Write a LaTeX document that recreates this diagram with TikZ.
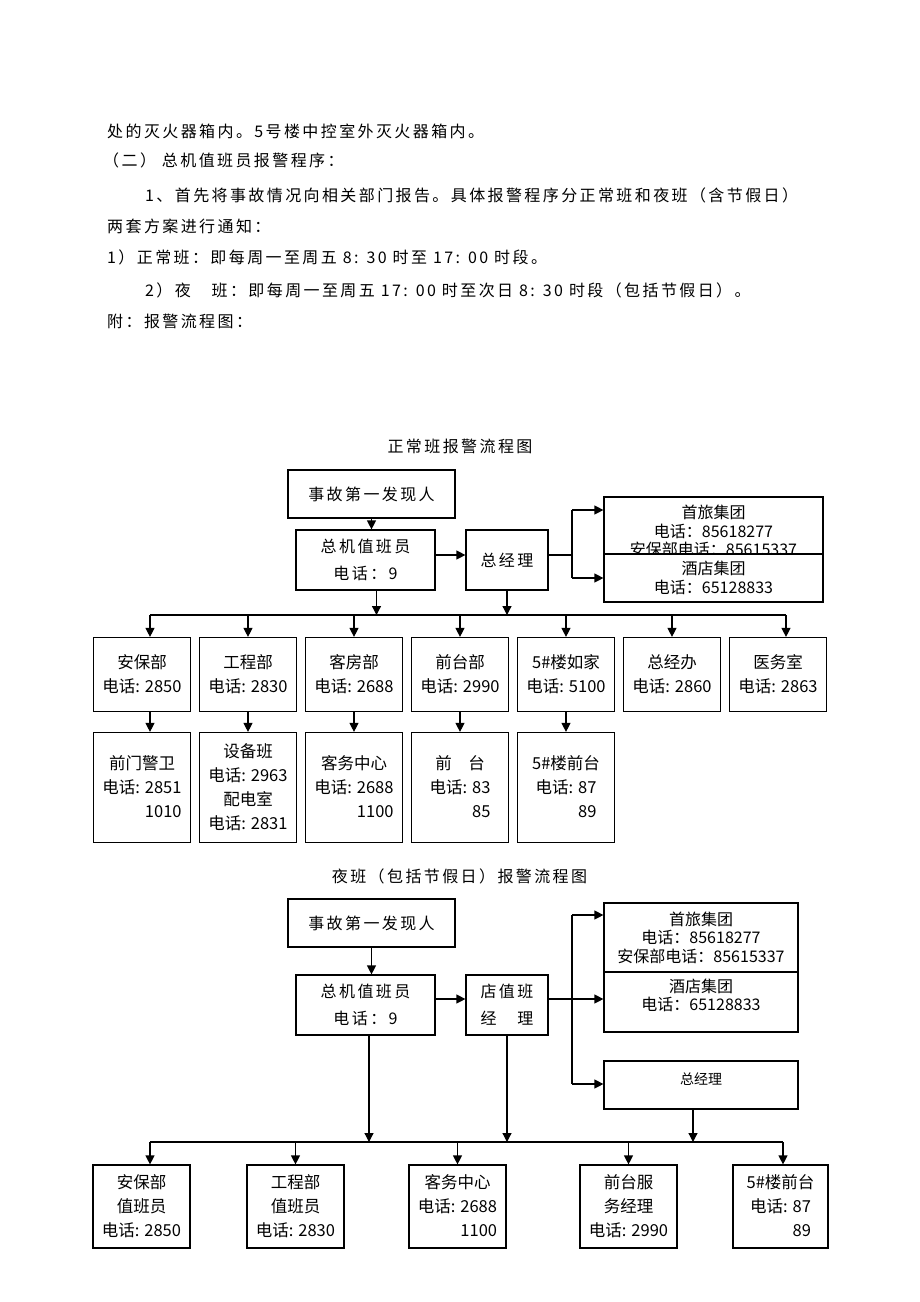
\documentclass[tikz,border=0pt]{standalone}
\usepackage{fontspec}
\newfontfamily\cjk[LetterSpace=15]{Noto Sans CJK SC}
\newfontfamily\cjkn{Noto Sans CJK SC}
\usetikzlibrary{positioning,arrows.meta}
\tikzstyle{BodyText}=[anchor=base west, inner sep=0pt, font=\cjk\fontsize{16}{16}\selectfont]
\tikzstyle{TitleText}=[inner sep=0pt, font=\cjk\fontsize{16}{16}\selectfont]
\tikzstyle{MainBox}=[rectangle, draw, line width=1.2pt, align=center, inner sep=0pt, font=\cjk\fontsize{16}{27}\selectfont]
\tikzstyle{GroupBox}=[rectangle, draw, fill=white, line width=1.2pt, align=center, inner sep=0pt, font=\cjkn\fontsize{16}{18.5}\selectfont]
\tikzstyle{GroupText}=[align=center, inner sep=0pt, font=\cjkn\fontsize{16}{18.5}\selectfont]
\tikzstyle{DeptBox}=[rectangle, draw, line width=1.2pt, align=center, inner sep=0pt, minimum width=97pt, font=\cjkn\fontsize{16.5}{24}\selectfont]
\tikzstyle{Arrow}=[-{Triangle[length=9pt,width=9pt]}, line width=1.2pt]
\tikzstyle{Line}=[line width=1.2pt]
\begin{document}
\begin{tikzpicture}[x=1pt,y=-1pt]
			\useasboundingbox[fill=white] (0,0) rectangle (920,1302);
			%Texto
			\node[BodyText] (line1) at (107,137)	{处的灭火器箱内。5号楼中控室外灭火器箱内。};
			\node[BodyText] (line2) at (103,166.5)	{（二） 总机值班员报警程序：};
			\node[BodyText] (line3) at (145,201)	{1、首先将事故情况向相关部门报告。具体报警程序分正常班和夜班（含节假日）};
			\node[BodyText] (line4) at (107,232.5)	{两套方案进行通知：};
			\node[BodyText] (line5) at (107,263.5)	{1）正常班：即每周一至周五 8: 30 时至 17: 00 时段。};
			\node[BodyText] (line6) at (145,296.5)	{2）夜　班：即每周一至周五 17: 00 时至次日 8: 30 时段（包括节假日）。};
			\node[BodyText] (line7) at (107,327.5)	{附：报警流程图：};

			%Nodos dia
			\node[TitleText] (title1) at (460,446) {正常班报警流程图};
			\node[MainBox, minimum width=167pt, minimum height=48pt]	(finder1)	at (371.5,494)	{事故第一发现人};
			\node[MainBox, minimum width=139pt, minimum height=60pt]	(operator1)	at (365.5,560)	{总机值班员\\电话：9};
			\node[MainBox, minimum width=82pt, minimum height=60pt]		(gm1)		at (507,560)	{总经理};
			\node[GroupBox, minimum width=219pt, minimum height=57pt]	(shoulv1)	at (713.5,525.5)	{};
			\node[GroupText]	(shoulv1txt)	at (713.5,531)	{首旅集团\\电话：85618277\\安保部电话：85615337};
			\node[GroupBox, minimum width=219pt, minimum height=48pt]	(hotel1)	at (713.5,578)	{酒店集团\\电话：65128833};

			\node[DeptBox, minimum height=74pt]	(secur1)	at (142,674.5)		{安保部\\电话: 2850};
			\node[DeptBox, minimum height=74pt]	(engin1)	[right=7.8pt of secur1]	{工程部\\电话: 2830};
			\node[DeptBox, minimum height=74pt]	(house1)	[right=7.8pt of engin1]	{客房部\\电话: 2688};
			\node[DeptBox, minimum height=74pt]	(front1)	[right=7.8pt of house1]	{前台部\\电话: 2990};
			\node[DeptBox, minimum height=74pt]	(bldg1)		[right=7.8pt of front1]	{5\#楼如家\\电话: 5100};
			\node[DeptBox, minimum height=74pt]	(office1)	[right=7.8pt of bldg1]	{总经办\\电话: 2860};
			\node[DeptBox, minimum height=74pt]	(medic1)	[right=7.8pt of office1]	{医务室\\电话: 2863};

			\node[DeptBox, minimum height=110pt, anchor=north]	(gate1)	[below=19.8pt of secur1]	{前门警卫\\电话: 2851\\\phantom{电话: }1010};
			\node[DeptBox, minimum height=110pt, anchor=north]	(equip1)	[below=19.8pt of engin1]	{设备班\\电话: 2963\\配电室\\电话: 2831};
			\node[DeptBox, minimum height=110pt, anchor=north]	(guest1)	[below=19.8pt of house1]	{客务中心\\电话: 2688\\\phantom{电话: }1100};
			\node[DeptBox, minimum height=110pt, anchor=north]	(desk1)	[below=19.8pt of front1]	{前　台\\电话: 83\\\phantom{电话: }85};
			\node[DeptBox, minimum height=110pt, anchor=north]	(bdesk1)	[below=19.8pt of bldg1]	{5\#楼前台\\电话: 87\\\phantom{电话: }89};

			%Lineas dia
			\coordinate (split1a) at (572,510);
			\coordinate (split1b) at (572,578);
			\coordinate (split1) at (572,555);
			\coordinate (bus1) at (0,615);
			\draw[Arrow] (finder1.south) -- (finder1.south |- operator1.north);
			\draw[Arrow] ([yshift=5pt]operator1.east) -- ([yshift=5pt]gm1.west);
			\draw[Line] ([yshift=5pt]gm1.east) -- (split1);
			\draw[Line] (split1a) -- (split1b);
			\draw[Arrow] (split1a) -- (split1a -| shoulv1.west);
			\draw[Arrow] (split1b) -- (split1b -| hotel1.west);
			\draw[Arrow] ([xshift=11pt]operator1.south) -- ([xshift=11pt]operator1.south |- bus1);
			\draw[Arrow] (gm1.south) -- (gm1.south |- bus1);
			\draw[Line] ([xshift=8pt]secur1.north |- bus1) -- ([xshift=8pt]medic1.north |- bus1);
			\draw[Arrow] ([xshift=8pt]secur1.north |- bus1) -- ([xshift=8pt]secur1.north);
			\draw[Arrow] (engin1.north |- bus1) -- (engin1.north);
			\draw[Arrow] (house1.north |- bus1) -- (house1.north);
			\draw[Arrow] (front1.north |- bus1) -- (front1.north);
			\draw[Arrow] (bldg1.north |- bus1) -- (bldg1.north);
			\draw[Arrow] (office1.north |- bus1) -- (office1.north);
			\draw[Arrow] ([xshift=8pt]medic1.north |- bus1) -- ([xshift=8pt]medic1.north);
			\draw[Arrow] ([xshift=8pt]secur1.south) -- ([xshift=8pt]gate1.north);
			\draw[Arrow] (engin1.south) -- (equip1.north);
			\draw[Arrow] (house1.south) -- (guest1.north);
			\draw[Arrow] (front1.south) -- (desk1.north);
			\draw[Arrow] (bldg1.south) -- (bdesk1.north);

			%Nodos noche
			\node[TitleText] (title2) at (459.5,876) {夜班（包括节假日）报警流程图};
			\node[MainBox, minimum width=167pt, minimum height=48pt]	(finder2)	at (371.5,923)	{事故第一发现人};
			\node[MainBox, minimum width=139pt, minimum height=60pt]	(operator2)	at (365.5,1005)	{总机值班员\\电话：9};
			\node[MainBox, minimum width=82pt, minimum height=60pt]		(duty2)		at (507,1005)	{店值班\\经　理};
			\node[GroupBox, minimum width=194pt, minimum height=69pt]	(shoulv2)	at (701,937.5)	{首旅集团\\电话：85618277\\安保部电话：85615337};
			\node[GroupBox, minimum width=194pt, minimum height=60pt]	(hotel2)	at (701,1002)	{};
			\node[GroupText]	(hotel2txt)	at (701,995.5)	{酒店集团\\电话：65128833};
			\node[GroupBox, minimum width=194pt, minimum height=48pt]	(gm2)		at (701,1085)	{};
			\node[GroupText, font=\cjkn\fontsize{14}{14}\selectfont]	(gm2txt)	at (701,1079)	{总经理};

			\node[DeptBox, minimum height=83pt]	(secur2)	at (141.5,1206.5)	{安保部\\值班员\\电话: 2850};
			\node[DeptBox, minimum height=83pt]	(engin2)	at (295.5,1206.5)	{工程部\\值班员\\电话: 2830};
			\node[DeptBox, minimum height=83pt]	(guest2)	at (457.5,1206.5)	{客务中心\\电话: 2688\\\phantom{电话: }1100};
			\node[DeptBox, minimum height=83pt]	(front2)	at (628.5,1206.5)	{前台服\\务经理\\电话: 2990};
			\node[DeptBox, minimum height=83pt, minimum width=95pt]	(bdesk2)	at (780.5,1206.5)	{5\#楼前台\\电话: 87\\\phantom{电话: }89};

			%Lineas noche
			\coordinate (split2a) at (572,915);
			\coordinate (split2b) at (572,999);
			\coordinate (split2c) at (572,1084);
			\coordinate (bus2) at (0,1142);
			\draw[Arrow] (finder2.south) -- (finder2.south |- operator2.north);
			\draw[Arrow] ([yshift=6pt]operator2.east) -- ([yshift=6pt]duty2.west);
			\draw[Arrow] ([yshift=6pt]duty2.east) -- (split2b -| hotel2.west);
			\draw[Line] (split2a) -- (split2c);
			\draw[Arrow] (split2a) -- (split2a -| shoulv2.west);
			\draw[Arrow] (split2c) -- (split2c -| gm2.west);
			\draw[Arrow] ([xshift=3.5pt]operator2.south) -- ([xshift=3.5pt]operator2.south |- bus2);
			\draw[Arrow] (duty2.south) -- (duty2.south |- bus2);
			\draw[Arrow] ([xshift=-8pt]gm2.south) -- ([xshift=-8pt]gm2.south |- bus2);
			\draw[Line] ([xshift=8.5pt]secur2.north |- bus2) -- ([xshift=2.5pt]bdesk2.north |- bus2);
			\draw[Arrow] ([xshift=8.5pt]secur2.north |- bus2) -- ([xshift=8.5pt]secur2.north);
			\draw[Arrow] (engin2.north |- bus2) -- (engin2.north);
			\draw[Arrow] (guest2.north |- bus2) -- (guest2.north);
			\draw[Arrow] (front2.north |- bus2) -- (front2.north);
			\draw[Arrow] ([xshift=2.5pt]bdesk2.north |- bus2) -- ([xshift=2.5pt]bdesk2.north);

		\end{tikzpicture}
\end{document}
